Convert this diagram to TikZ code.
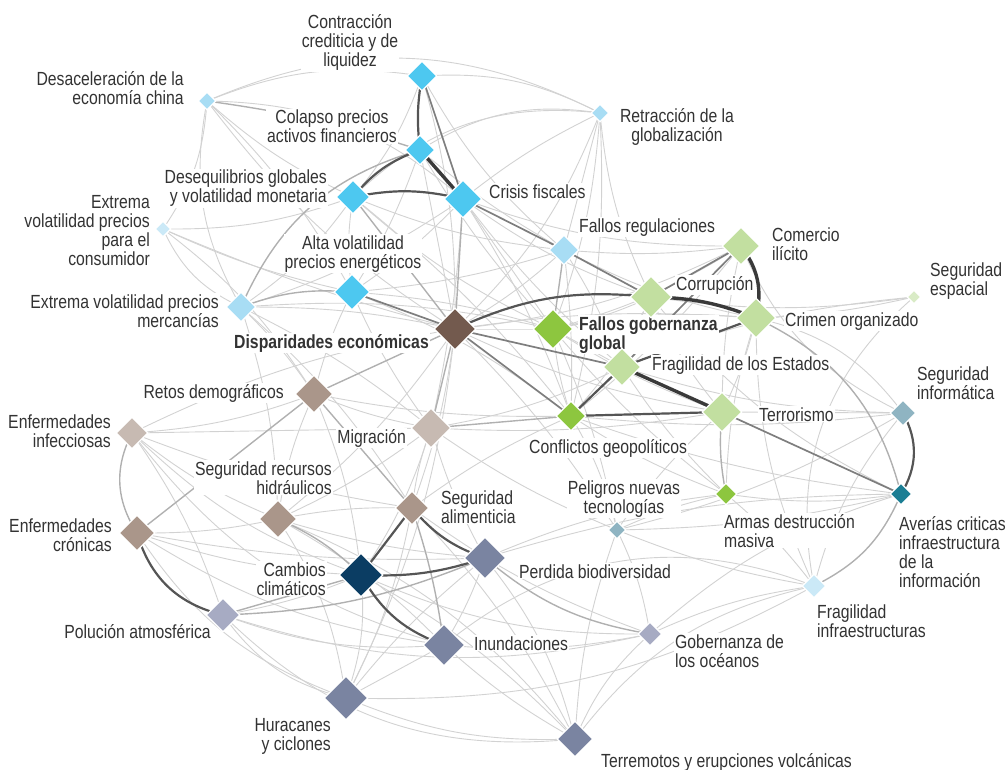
\documentclass[tikz,border=0pt]{standalone}
\usepackage{fontspec}
\setmainfont[FakeStretch=0.83]{Liberation Sans}
\usetikzlibrary{shapes.geometric,backgrounds}
\definecolor{txt}{HTML}{333333}
\definecolor{cFin}{HTML}{4DC8F0}
\definecolor{cLB}{HTML}{A8DDF4}
\definecolor{cVLB}{HTML}{CBE9F7}
\definecolor{cLG}{HTML}{C2DFA0}
\definecolor{cVLG}{HTML}{D9EBC6}
\definecolor{cG}{HTML}{8DC63F}
\definecolor{cDB}{HTML}{735A4E}
\definecolor{cBr}{HTML}{AA968A}
\definecolor{cLBr}{HTML}{C7BAB2}
\definecolor{cTl}{HTML}{8FB4C2}
\definecolor{cDT}{HTML}{1B7E94}
\definecolor{cNv}{HTML}{0B3D63}
\definecolor{cSl}{HTML}{7A84A1}
\definecolor{cLSl}{HTML}{A7ABC3}
\definecolor{eL}{HTML}{D2D2D2}
\definecolor{eM}{HTML}{B0B0B0}
\definecolor{eD}{HTML}{7E7E7E}
\definecolor{eK}{HTML}{555555}
\definecolor{eX}{HTML}{3A3A3A}
\newcommand\LblFont{\fontsize{19}{19}\selectfont}
\begin{document}
\begin{tikzpicture}[x=1pt,y=1pt,
  dia/.style={diamond, aspect=1, inner sep=0pt, minimum size=#1, draw=white, line width=1.2pt},
  lab/.style={font=\LblFont, text=txt, inner sep=1pt, fill=white},
  LE/.style={lab, anchor=base east, align=right},
  LW/.style={lab, anchor=base west, align=left},
  LC/.style={lab, anchor=base, align=center},
  EL/.style={draw=eL, line width=0.9pt},
  EM/.style={draw=eM, line width=1.4pt},
  ED/.style={draw=eD, line width=1.7pt},
  EK/.style={draw=eK, line width=2.2pt},
  EX/.style={draw=eX, line width=3.4pt}]
\useasboundingbox (0,0) rectangle (1006,-770);
% ---------- labels (y = baseline of last line) ----------
\node[LC] (conL) at (350,-67) {Contracción\\crediticia y de\\liquidez};
\node[LE] (chiL) at (185,-105) {Desaceleración de la\\economía china};
\node[LC] (retL) at (677,-142) {Retracción de la\\globalización};
\node[LC] (colL) at (332,-143) {Colapso precios\\activos financieros};
\node[LE] (deqL) at (328,-203) {Desequilibrios globales\\y volatilidad monetaria};
\node[LW] (criL) at (488,-198) {Crisis fiscales};
\node[LE] (ecvL) at (151,-265) {Extrema\\volatilidad precios\\para el\\consumidor};
\node[LW] (fregL) at (578,-232) {Fallos regulaciones};
\node[LW] (comL) at (771,-260) {Comercio\\ilícito};
\node[LC] (altL) at (353,-268) {Alta volatilidad\\precios energéticos};
\node[LE] (emvL) at (220,-327) {Extrema volatilidad precios\\mercancías};
\node[LW] (corL) at (675,-290) {Corrupción};
\node[LW] (espL) at (929,-295) {Seguridad\\espacial};
\node[LE,font=\LblFont\bfseries] (disL) at (430,-348) {Disparidades económicas};
\node[LW,font=\LblFont\bfseries] (fgoL) at (578,-349) {Fallos gobernanza\\global};
\node[LW] (croL) at (784,-326) {Crimen organizado};
\node[LW] (fesL) at (651,-370) {Fragilidad de los Estados};
\node[LE] (rdmL) at (285,-398) {Retos demográficos};
\node[LW] (sinfL) at (916,-399) {Seguridad\\informática};
\node[LW] (terL) at (758,-421) {Terrorismo};
\node[LE] (einfL) at (112,-447) {Enfermedades\\infecciosas};
\node[LE] (migL) at (407,-443) {Migración};
\node[LW] (cgeoL) at (528,-453) {Conflictos geopolíticos};
\node[LE] (srhL) at (333,-494) {Seguridad recursos\\hidráulicos};
\node[LW] (salL) at (440,-523) {Seguridad\\alimenticia};
\node[LC] (pntL) at (624,-513) {Peligros nuevas\\tecnologías};
\node[LW] (armL) at (723,-547) {Armas destrucción\\masiva};
\node[LW] (aveL) at (898,-587) {Averías criticas\\infraestructura\\de la\\información};
\node[LE] (ecrL) at (113,-551) {Enfermedades\\crónicas};
\node[LE] (camL) at (327,-595) {Cambios\\climáticos};
\node[LW] (pbiL) at (518,-578) {Perdida biodiversidad};
\node[LE] (polL) at (212,-638) {Polución atmosférica};
\node[LW] (finfL) at (816,-637) {Fragilidad\\infraestructuras};
\node[LW] (inuL) at (473,-650) {Inundaciones};
\node[LW] (gocL) at (674,-667) {Gobernanza de\\los océanos};
\node[LE] (hurL) at (332,-750) {Huracanes\\y ciclones};
\node[LW] (terrL) at (600,-767) {Terremotos y erupciones volcánicas};
% ---------- nodes ----------
\node[dia=30, fill=cFin] (con) at (422,-76) {};
\node[dia=18, fill=cLB] (chi) at (207,-101) {};
\node[dia=18, fill=cLB] (ret) at (600,-113) {};
\node[dia=30, fill=cFin] (col) at (420,-150) {};
\node[dia=34, fill=cFin] (deq) at (353,-197) {};
\node[dia=38, fill=cFin] (cri) at (463,-199) {};
\node[dia=16, fill=cVLB] (ecv) at (163,-229) {};
\node[dia=30, fill=cLB] (freg) at (564,-250) {};
\node[dia=38, fill=cLG] (com) at (741,-246) {};
\node[dia=36, fill=cFin] (alt) at (352,-292) {};
\node[dia=30, fill=cLB] (emv) at (241,-307) {};
\node[dia=42, fill=cLG] (cor) at (651,-297) {};
\node[dia=14, fill=cVLG] (esp) at (914,-297) {};
\node[dia=42, fill=cDB] (dis) at (455,-329) {};
\node[dia=40, fill=cG] (fgo) at (553,-329) {};
\node[dia=40, fill=cLG] (cro) at (756,-318) {};
\node[dia=38, fill=cLG] (fes) at (622,-367) {};
\node[dia=38, fill=cBr] (rdm) at (314,-394) {};
\node[dia=26, fill=cTl] (sinf) at (903,-413) {};
\node[dia=40, fill=cLG] (ter) at (722,-412) {};
\node[dia=32, fill=cLBr] (einf) at (132,-433) {};
\node[dia=40, fill=cLBr] (mig) at (431,-428) {};
\node[dia=30, fill=cG] (cgeo) at (571,-416) {};
\node[dia=38, fill=cBr] (srh) at (278,-519) {};
\node[dia=34, fill=cBr] (sal) at (412,-508) {};
\node[dia=18, fill=cTl] (pnt) at (617,-530) {};
\node[dia=22, fill=cG] (arm) at (726,-494) {};
\node[dia=22, fill=cDT] (ave) at (901,-494) {};
\node[dia=36, fill=cBr] (ecr) at (137,-533) {};
\node[dia=44, fill=cNv] (cam) at (361,-575) {};
\node[dia=42, fill=cSl] (pbi) at (485,-558) {};
\node[dia=34, fill=cLSl] (pol) at (223,-615) {};
\node[dia=24, fill=cVLB] (finf) at (814,-586) {};
\node[dia=42, fill=cSl] (inu) at (444,-645) {};
\node[dia=24, fill=cLSl] (goc) at (650,-634) {};
\node[dia=44, fill=cSl] (hur) at (346,-698) {};
\node[dia=36, fill=cSl] (terr) at (575,-739) {};
% ---------- edges ----------
\begin{scope}[on background layer]
\foreach \a/\b/\c in {con/chi/-15, con/ret/15, chi/ret/25, con/freg/-10, con/dis/8, con/deq/10,
  col/ret/20, deq/ret/25, col/alt/6, col/dis/0, col/freg/-5, col/fgo/-6,
  chi/deq/-8, chi/cri/20, chi/dis/-10, chi/emv/-20, chi/alt/8,
  ret/freg/0, ret/fgo/8, ret/dis/12, ret/cri/-6, ret/cgeo/8, ret/cor/-10,
  deq/emv/10, deq/alt/-8, deq/freg/-8, deq/ecv/10, deq/fgo/-8, deq/cgeo/6,
  cri/fgo/0, cri/cor/-8, cri/fes/-6, cri/alt/6, cri/emv/8, cri/mig/4, cri/cgeo/6, cri/com/-10,
  ecv/emv/-20, ecv/alt/-6, ecv/dis/-4, ecv/rdm/10, ecv/chi/-15,
  freg/cro/-8, freg/com/-6, freg/dis/6, freg/cgeo/4, freg/fes/6,
  com/fgo/8, com/ter/-6, com/dis/10, com/cgeo/6, com/sinf/-20,
  alt/cgeo/8, alt/fgo/6, alt/rdm/-6, alt/mig/-6, alt/freg/-6,
  emv/dis/6, emv/rdm/6, emv/sal/8, emv/srh/8, emv/fgo/8, emv/mig/6,
  cor/fgo/6, cor/fes/-6, cor/ter/-8, cor/cgeo/8, cor/esp/-8, cor/ave/-12,
  esp/cro/5, esp/finf/-30, esp/fes/-8,
  dis/fgo/0, dis/sal/6, dis/srh/8, dis/einf/-8, dis/ter/-8, dis/cro/6, dis/pnt/6, dis/hur/10,
  fgo/fes/0, fgo/cgeo/-6, fgo/ter/-6, fgo/cro/8, fgo/pnt/6, fgo/arm/-6,
  cro/ter/6, cro/arm/-8, cro/finf/-12, cro/sinf/20,
  fes/mig/8, fes/arm/-6, fes/sinf/-8,
  rdm/mig/-6, rdm/einf/8, rdm/srh/-8, rdm/cgeo/-6, rdm/cam/8,
  sinf/ter/0, sinf/finf/-12, sinf/cgeo/6, sinf/pnt/8,
  ter/mig/6, ter/pnt/-6,
  einf/mig/0, einf/srh/-8, einf/cam/-12, einf/pol/8, einf/sal/-6, einf/inu/-18,
  mig/sal/-6, mig/srh/6, mig/cam/8, mig/pnt/-6, mig/pbi/-6,
  cgeo/arm/-6, cgeo/pnt/8, cgeo/sal/-6, cgeo/ave/-6,
  srh/sal/6, srh/pbi/-6, srh/hur/12, srh/inu/8, srh/ecr/6, srh/terr/14,
  sal/hur/8, sal/goc/-8, sal/terr/8,
  pnt/goc/8, pnt/finf/-6, pnt/ave/-6, pnt/arm/6, pnt/terr/-8,
  arm/ave/-8, arm/finf/6, arm/pbi/-8,
  ave/goc/-12, ave/pbi/-8,
  ecr/cam/-8, ecr/pbi/-6, ecr/hur/-18, ecr/inu/-12,
  cam/hur/12, cam/pol/6, cam/terr/8, cam/goc/-12,
  pbi/inu/6, pbi/hur/-6, pbi/terr/12,
  pol/inu/-12, pol/hur/-20, pol/terr/-25, pol/goc/-15,
  finf/inu/-30, finf/terr/-20, finf/goc/-8, hur/finf/-15,
  inu/hur/0, inu/terr/-6, inu/goc/-8,
  hur/terr/-12, goc/terr/-12}
  {\draw[EL] (\a.center) to[bend left=\c] (\b.center);}
\foreach \a/\b/\c in {chi/col/5, emv/col/25, alt/emv/-12, deq/dis/0, cri/dis/0, rdm/dis/0,
  fgo/freg/0, ecr/rdm/0, rdm/sal/0, einf/ecr/-30, pol/pbi/-10, pbi/goc/-15,
  finf/ave/-20, sal/inu/5, mig/cgeo/0, srh/cam/10, dis/mig/0, cro/ave/25,
  ter/arm/-8, pol/cam/0}
  {\draw[EM] (\a.center) to[bend left=\c] (\b.center);}
\foreach \a/\b/\c in {con/cri/0, cri/freg/0, dis/cgeo/0, dis/fes/0, com/cor/0,
  com/fes/0, freg/cor/0, alt/dis/0, ter/ave/0}
  {\draw[ED] (\a.center) to[bend left=\c] (\b.center);}
\foreach \a/\b/\c in {con/col/-8, col/deq/-15, deq/cri/12, dis/cor/15, fes/cro/0,
  cgeo/fes/0, cgeo/ter/0, sinf/ave/30, ecr/pol/-30, cam/sal/0, cam/pbi/-10,
  cam/inu/-20, sal/pbi/-15}
  {\draw[EK] (\a.center) to[bend left=\c] (\b.center);}
\draw[EX] (col.center) -- (cri.center);
\draw[EX] (fes.center) -- (ter.center);
\draw[EX] (cor.center) to[bend left=10] (cro.center);
\draw[EX] (com.center) to[bend left=25] (cro.center);
\end{scope}
\end{tikzpicture}
\end{document}
